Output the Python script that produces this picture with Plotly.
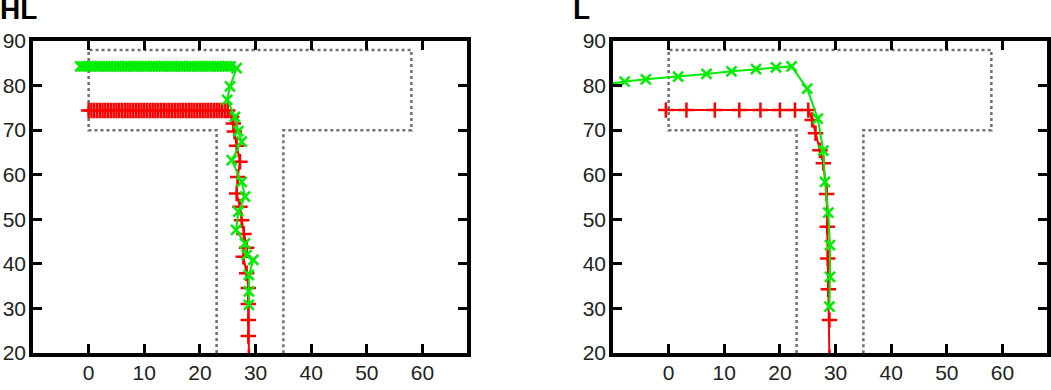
import plotly.graph_objects as go
from plotly.subplots import make_subplots

# ---------------- data ----------------
titles = ["HL", "L"]
x_ticks = [0, 10, 20, 30, 40, 50, 60]
y_ticks = [20, 30, 40, 50, 60, 70, 80, 90]

# corridor (T-junction) outline
wall_x = [23, 23, 0, 0, 58, 58, 35, 35]
wall_y = [20, 70, 70, 88, 88, 70, 70, 20]

# HL panel
hl_red_x = [0.0, 0.5, 1.0, 1.5, 2.0, 2.5, 3.0, 3.5, 4.0, 4.5, 5.0, 5.5, 6.0, 6.5, 7.0, 7.5,
            8.0, 8.5, 9.0, 9.5, 10.0, 10.5, 11.0, 11.5, 12.0, 12.5, 13.0, 13.5, 14.0, 14.5,
            15.0, 15.5, 16.0, 16.5, 17.0, 17.5, 18.0, 18.5, 19.0, 19.5, 20.0, 20.5, 21.0,
            21.5, 22.0, 22.5, 23.0, 23.5, 24.0, 24.5, 25.0,
            25.7, 26.0, 26.2, 26.6, 27.2, 26.8, 26.6, 27.2, 27.5, 27.9, 28.4, 27.8, 28.4,
            28.7, 28.7, 28.7, 28.7, 28.8]
hl_red_y = [74.4, 74.4, 74.4, 74.4, 74.4, 74.4, 74.4, 74.4, 74.4, 74.4, 74.4, 74.4, 74.4,
            74.4, 74.4, 74.4, 74.4, 74.4, 74.4, 74.4, 74.4, 74.4, 74.4, 74.4, 74.4, 74.4,
            74.4, 74.4, 74.4, 74.4, 74.4, 74.4, 74.4, 74.4, 74.4, 74.4, 74.4, 74.4, 74.4,
            74.4, 74.4, 74.4, 74.4, 74.4, 74.4, 74.4, 74.4, 74.4, 74.4, 74.4, 74.4,
            73.0, 71.5, 69.7, 66.5, 62.9, 59.5, 55.8, 52.8, 49.8, 46.7, 43.6, 41.6, 37.9,
            34.6, 31.0, 27.4, 23.8, 19.0]
hl_green_x = [-1.5, -1.0, -0.5, 0.0, 0.5, 1.0, 1.5, 2.0, 2.5, 3.0, 3.5, 4.0, 4.5, 5.0, 5.5,
              6.0, 6.5, 7.0, 7.5, 8.0, 8.5, 9.0, 9.5, 10.0, 10.5, 11.0, 11.5, 12.0, 12.5,
              13.0, 13.5, 14.0, 14.5, 15.0, 15.5, 16.0, 16.5, 17.0, 17.5, 18.0, 18.5, 19.0,
              19.5, 20.0, 20.5, 21.0, 21.5, 22.0, 22.5, 23.0, 23.5, 24.0, 24.5, 25.0, 25.5,
              26.6, 25.4, 24.9, 26.3, 26.9, 27.5, 25.7, 27.5, 28.1, 26.9, 26.5, 28.1, 28.4,
              29.6, 28.8, 28.8, 28.8]
hl_green_y = [84.3, 84.3, 84.3, 84.3, 84.3, 84.3, 84.3, 84.3, 84.3, 84.3, 84.3, 84.3, 84.3,
              84.3, 84.3, 84.3, 84.3, 84.3, 84.3, 84.3, 84.3, 84.3, 84.3, 84.3, 84.3, 84.3,
              84.3, 84.3, 84.3, 84.3, 84.3, 84.3, 84.3, 84.3, 84.3, 84.3, 84.3, 84.3, 84.3,
              84.3, 84.3, 84.3, 84.3, 84.3, 84.3, 84.3, 84.3, 84.3, 84.3, 84.3, 84.3, 84.3,
              84.3, 84.3, 84.3,
              83.9, 79.8, 76.8, 73.0, 69.8, 67.4, 63.3, 58.4, 55.1, 51.7, 47.6, 44.6, 42.0,
              40.9, 37.5, 33.8, 30.8]

# L panel
l_red_x = [-0.5, 3.2, 8.3, 12.7, 16.5, 20.0, 22.7, 25.1, 25.8, 26.4, 27.2, 27.8, 28.4,
           28.5, 28.6, 28.7, 28.9, 28.9]
l_red_y = [74.5, 74.5, 74.5, 74.5, 74.5, 74.5, 74.5, 74.5, 72.3, 69.3, 65.5, 62.6, 55.7,
           48.3, 41.2, 34.3, 27.4, 19.0]
l_green_x = [-11.5, -7.9, -4.1, 1.7, 6.8, 11.3, 15.7, 19.3, 22.1, 24.9, 26.8, 27.8, 28.1,
             28.7, 29.0, 29.0, 28.9]
l_green_y = [80.2, 80.9, 81.4, 82.0, 82.6, 83.2, 83.7, 84.1, 84.3, 79.3, 72.6, 65.4, 58.4,
             51.5, 44.2, 37.1, 30.4]

panels = [(hl_red_x, hl_red_y, hl_green_x, hl_green_y),
          (l_red_x, l_red_y, l_green_x, l_green_y)]

# ---------------- figure ----------------
W, H = 1051, 390
fig = make_subplots(rows=1, cols=2)

RED = "#ff0000"
GREEN = "#00ee00"
for i, (rx, ry, gx, gy) in enumerate(panels, start=1):
    fig.add_trace(go.Scatter(x=wall_x, y=wall_y, mode="lines",
                             line=dict(color="#707070", width=2.5, dash="dot"),
                             hoverinfo="skip"), row=1, col=i)
    fig.add_trace(go.Scatter(x=rx, y=ry, mode="lines+markers",
                             line=dict(color=RED, width=2),
                             marker=dict(symbol="cross-thin", size=11,
                                         line=dict(color=RED, width=2.5))),
                  row=1, col=i)
    fig.add_trace(go.Scatter(x=gx, y=gy, mode="lines+markers",
                             line=dict(color=GREEN, width=2),
                             marker=dict(symbol="x-thin", size=10,
                                         line=dict(color=GREEN, width=2.5))),
                  row=1, col=i)

x_domains = [[33 / W, 467 / W], [613 / W, 1047 / W]]
y_domain = [1 - 353 / H, 1 - 41 / H]
axis_common = dict(showline=True, linewidth=3.5, linecolor="black", mirror="ticks",
                   ticks="inside", ticklen=9, tickwidth=2.5, tickcolor="black",
                   showgrid=False, zeroline=False, automargin=False,
                   tickfont=dict(family="Liberation Sans", size=21, color="#222222"))
for i in (1, 2):
    fig.update_xaxes(range=[-10, 68], tickvals=x_ticks, domain=x_domains[i - 1],
                     ticklabelstandoff=-2, **axis_common, row=1, col=i)
    fig.update_yaxes(range=[20, 90], tickvals=y_ticks, domain=y_domain,
                     ticklabelstandoff=-1, **axis_common, row=1, col=i)

title_x = [-2, 571]
for t, tx in zip(titles, title_x):
    fig.add_annotation(text="<b>%s</b>" % t, xref="paper", yref="paper",
                       x=tx / W, y=1 - 9 / H, xanchor="left", yanchor="middle",
                       showarrow=False,
                       font=dict(family="Liberation Sans", size=28, color="black"))

fig.update_layout(width=W, height=H, autosize=False, showlegend=False,
                  margin=dict(l=0, r=0, t=0, b=0),
                  plot_bgcolor="white", paper_bgcolor="white")

fig.write_html("out.html")
